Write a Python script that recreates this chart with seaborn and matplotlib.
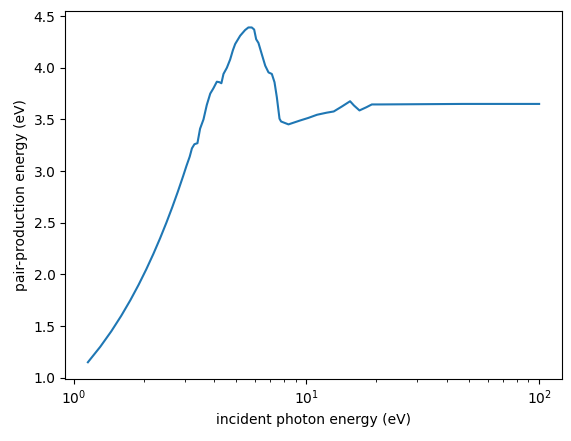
import numpy as np
import pandas as pd
import seaborn as sns
import matplotlib
matplotlib.use("Agg")
import matplotlib.pyplot as plt

# values
energy = [1.15, 1.30, 1.45, 1.60, 1.75, 1.90, 2.05, 2.20, 2.35, 2.50,
          2.65, 2.80, 2.95, 3.05, 3.15, 3.22, 3.30, 3.40, 3.49, 3.61,
          3.73, 3.86, 3.98, 4.12, 4.23, 4.31, 4.40, 4.55, 4.70, 4.83,
          4.94, 5.19, 5.45, 5.63, 5.82, 5.96, 6.08, 6.22, 6.43, 6.65,
          6.87, 7.10, 7.29, 7.46, 7.66, 7.78, 8.37, 9.40, 10.2, 11.1,
          12.2, 13.1, 14.2, 15.4, 16.0, 16.9, 18.1, 19.1, 20.7, 28.8,
          47.3, 100.0]
pair_energy = [1.15, 1.30, 1.45, 1.60, 1.75, 1.90, 2.05, 2.20, 2.35, 2.50,
               2.65, 2.80, 2.95, 3.05, 3.14, 3.22, 3.26, 3.27, 3.41, 3.50,
               3.64, 3.75, 3.80, 3.865, 3.86, 3.85, 3.94, 4.00, 4.08, 4.17,
               4.23, 4.31, 4.365, 4.39, 4.39, 4.37, 4.276, 4.24, 4.13, 4.02,
               3.955, 3.94, 3.86, 3.715, 3.507, 3.48, 3.452, 3.49, 3.515, 3.545,
               3.565, 3.577, 3.625, 3.676, 3.635, 3.587, 3.618, 3.645, 3.645, 3.647,
               3.650, 3.650]

df = pd.DataFrame({"energy": energy, "pair": pair_energy})

fig, ax = plt.subplots(figsize=(5.71, 4.41), dpi=100)
fig.subplots_adjust(left=0.1144, right=0.9837, top=0.9757, bottom=0.1406)
sns.lineplot(data=df, x="energy", y="pair", ax=ax, estimator=None, color="C0")
ax.set_xscale("log")
ax.set_xlabel("incident photon energy (eV)")
ax.set_ylabel("pair-production energy (eV)")

fig.savefig("out.png", dpi=100)
